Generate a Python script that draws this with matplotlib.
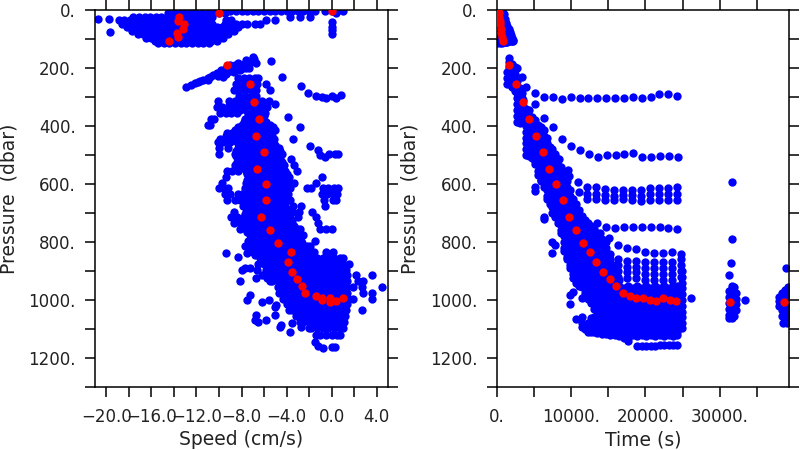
import matplotlib
matplotlib.use('Agg')
import matplotlib.pyplot as plt

# --- left panel: blue points, one list of speeds per pressure level ---
surface_levels = [5, 12, 24, 36, 48, 60, 72, 84, 96, 108, 113]
surface_speeds = [
    [-10, -9.5, -9, -8.5, -8, -7.5, -7, -6.5, -6, -5.5, -5, -4.5, -4, -3.5, -3, -2.5, -2, -1.5, -0.6, 0, 0.5, 1],
    [-14.5, -14, -13.5, -13, -12.5, -12, -11.5, -11, -10.5, -10, -9.5, 0.4],
    [-17.6, -17.1, -16.6, -16.1, -15.6, -15.1, -14.6, -14.1, -13.6, -13.1, -12.6, -12.1, -11.6, -11.1, -10.6, -3.7, -2.8, -1.9],
    [-18.9, -18.4, -17.9, -17.4, -16.9, -16.4, -15.9, -15.4, -14.9, -14.4, -13.9, -13.4, -12.9, -12.4, -11.9, -11.4, -10.8, -9.4, -8.9, -5.8, -5.0],
    [-18.6, -18.1, -17.6, -17.1, -16.6, -16.1, -15.6, -15.1, -14.6, -14.1, -13.6, -13.1, -12.6, -12.1, -11.6, -11.1, -10.6, -9.5, -9, -8.5, -8, -7.55, -6.8, -6.4],
    [-18.2, -17.7, -17.2, -16.7, -16.2, -15.7, -15.2, -14.7, -14.2, -13.7, -13.2, -12.7, -12.2, -11.7, -11.2, -10.7, -10.2, -9.7, -9.2, -8.6, -8.3],
    [-17.7, -17.2, -16.7, -16.2, -15.7, -15.2, -14.7, -14.2, -13.7, -13.2, -12.7, -12.2, -11.7, -11.2, -10.7, -10.2, -9.7, -9.2, -8.7],
    [-17.2, -16.7, -16.2, -15.7, -15.2, -14.7, -14.2, -13.7, -13.2, -12.7, -12.2, -11.7, -11.2, -10.7, -10.2, -9.7, -9.2],
    [-16.5, -16, -15.5, -15, -14.5, -14, -13.5, -13, -12.5, -12, -11.5, -11, -10.5, -10, -9.6],
    [-15.7, -15.2, -14.7, -14.2, -13.7, -13.2, -12.7, -12.2, -11.7, -11.2, -10.7, -10.2],
    [-15.4, -14.9, -14.4, -13.9, -13.4, -12.9, -12.4, -11.9, -11.4, -10.9],
]
surface_extra_speed = [-20.7, -19.76, -19.7, 0, 0, 0, 0]
surface_extra_press = [32, 32, 75, 40, 57, 69, 84]

branch_speed = [-12.9, -12.1, -11.4, -11.9, -10.5, -10.8, -9.8, -9.6, -9, -8.7, -8.3, -8.15, -7.6, -7.3, -7, -6.7, -8.5, -7.8, -7.2, -9.2, -5.4, -4.45, -2.7, -2.1, -1.4, -0.9, -0.5, 0, 0.4, 0.8, -5.0, -3.9, -2.8, -3.4, -1.9, -1.2, -1, -0.6, -0.2, 0.3, 0.6]
branch_press = [267, 253, 241, 248, 224, 232, 207, 230, 190, 213, 182, 207, 172, 201, 163, 184, 195, 186, 180, 200, 175, 230, 262, 287, 297, 299, 302, 295, 302, 293, 325, 370, 404, 445, 468, 483, 500, 506, 497, 497, 498]
# the thick part of the streak near 200 dbar
streak_speed = [-12.5, -11.7, -11.0, -11.0, -10.2, -10.1, -9.4, -9.3, -8.9, -8.6, -8.1, -7.9, -7.5, -7.4, -7.1, -6.9, -7.6, -8.2, -8.9, -9.4]
streak_press = [258, 246, 233, 240, 217, 226, 200, 215, 205, 190, 190, 200, 180, 190, 175, 170, 200, 205, 210, 220]

mid_levels = [235, 255, 275, 295, 315, 335, 355, 375, 395, 415, 435, 455, 475, 495, 515, 535, 555, 575, 595, 615, 635, 655, 675, 695, 715, 735]
mid_speeds = [
    [-8.3, -7.8, -7.3, -6.8, -6.5],
    [-8.5, -8, -7.5, -7, -6.6, -5.8],
    [-8.7, -8.2, -7.7, -7.2, -6.7, -5.5],
    [-8.2, -7.7, -7.2, -6.7],
    [-10.1, -9.1, -8.6, -8.1, -7.6, -7.1, -6.6, -6.2, -5.6],
    [-10.2, -9.7, -9.2, -8.7, -8.2, -7.7, -7.2, -6.7, -6.2, -5.7],
    [-9.9, -9.4, -8.9, -8.4, -7.4, -6.9, -6.4, -5.9],
    [-10.7, -10.4, -7.7, -7.2, -6.7, -6.2],
    [-11, -10.8, -8, -7.5, -7, -6.5, -6, -5.5],
    [-8.6, -8, -7.5, -7, -6.5, -6, -5.4, -5],
    [-9.4, -8.9, -8.3, -7.8, -7.3, -6.8, -6.3, -5.8, -5.3],
    [-10.1, -9.6, -9, -8.4, -7.9, -7.4, -6.9, -6.4, -5.9],
    [-10, -9.2, -8.3, -7.8, -7.3, -6.8, -6.3, -5.8, -5.2, -4.7],
    [-10, -8.6, -8.1, -7.6, -7.1, -6.6, -6.1, -5.6, -4.9, -4.4],
    [-8.3, -7.8, -7.3, -6.8, -6.3, -5.8, -5.3, -4.6, -3.6],
    [-8.6, -8, -7.5, -7, -6.5, -6, -5.5, -5, -4.2, -3.3],
    [-9.3, -8.8, -8.3, -7.6, -7.1, -6.6, -6.1, -5.6, -5.1, -4.6, -4.1, -3.1],
    [-9.4, -7.3, -6.8, -6.3, -5.8, -5.3, -4.8, -4.3, -3.8, -0.85],
    [-9.7, -7.6, -7.1, -6.6, -6.1, -5.6, -5.1, -4.6, -4.1, -3.85, -3.3, -1.4],
    [-10, -9.6, -9.2, -7.7, -7.2, -6.7, -6.2, -5.7, -5.2, -4.7, -4.2, -3.7, -2.2, -1.8, -0.8, -0.3, 0.2, 0.6],
    [-9.5, -9, -8.3, -7.9, -7.4, -6.9, -6.4, -5.9, -5.4, -4.9, -4.4, -3.9, -0.9, -0.4, 0.1, 0.5],
    [-9.3, -8.6, -8.1, -7.6, -7.1, -6.6, -6.1, -5.6, -5.1, -4.6, -4.1, -3.7, -0.7, 0.1, 0.4],
    [-7.9, -7.4, -6.9, -6.4, -5.9, -5.4, -4.9, -4.4, -3.4, -2.7, -0.6],
    [-8.7, -7.6, -7.1, -6.6, -6.1, -5.6, -5.1, -4.6, -4.1, -3.5, -2.9, -1.7],
    [-8.9, -8.4, -7.8, -7.3, -6.8, -6.3, -5.8, -5.3, -4.8, -4.3, -3.8, -3.0, -1.4],
    [-8.7, -8.1, -7.5, -7, -6.5, -6, -5.5, -5, -4.5, -4, -3.5, -1.2],
]

# filling the solid middle of the column between the rows above
core_levels = [345, 365, 385, 405, 425, 445, 465, 485, 505, 525, 545, 565, 585, 605, 625, 645, 665, 685, 705, 725, 745, 765, 785, 805, 825, 845]
core_speeds = [
    [-9.6, -9.1, -8.6, -8.1, -7.6, -7.1, -6.6, -6.1],
    [-7.4, -6.9, -6.4, -6.0],
    [-7.8, -7.3, -6.8, -6.3, -5.8],
    [-8.3, -7.8, -7.3, -6.8, -6.3, -5.8, -5.2],
    [-9.3, -8.8, -8.1, -7.6, -7.1, -6.6, -6.1, -5.6],
    [-9.9, -9.1, -8.6, -8.1, -7.6, -7.1, -6.6, -6.1, -5.6, -5.1],
    [-8.2, -7.6, -7.1, -6.6, -6.1, -5.6, -5.0],
    [-8.5, -7.9, -7.4, -6.9, -6.4, -5.9, -5.4, -4.6],
    [-8.5, -8, -7.5, -7, -6.5, -6, -5.5, -5],
    [-8.4, -7.9, -7.4, -6.9, -6.4, -5.9, -5.4, -4.9, -4.4],
    [-8.1, -7.6, -7.1, -6.6, -6.1, -5.6, -5.1, -4.6],
    [-7.5, -7, -6.5, -6, -5.5, -5, -4.5, -4],
    [-7.5, -7, -6.5, -6, -5.5, -5, -4.5, -4],
    [-7.4, -6.9, -6.4, -5.9, -5.4, -4.9, -4.4, -3.9],
    [-7.7, -7.2, -6.7, -6.2, -5.7, -5.2, -4.7, -4.2],
    [-8, -7.5, -7, -6.5, -6, -5.5, -5, -4.5, -4],
    [-7.6, -7.1, -6.6, -6.1, -5.6, -5.1, -4.6, -4.1],
    [-7.5, -7, -6.5, -6, -5.5, -5, -4.5, -4],
    [-7.7, -7.2, -6.7, -6.2, -5.7, -5.2, -4.7, -4.2, -3.7],
    [-8, -7.5, -7, -6.5, -6, -5.5, -5, -4.5, -4, -3.5],
    [-7.8, -7.3, -6.8, -6.3, -5.8, -5.3, -4.8, -4.3, -3.8, -3.3],
    [-7.5, -7, -6.5, -6, -5.5, -5, -4.5, -4, -3.5, -3],
    [-7.2, -6.7, -6.2, -5.7, -5.2, -4.7, -4.2, -3.7, -3.2],
    [-7.1, -6.6, -6.1, -5.6, -5.1, -4.6, -4.1, -3.6, -3.1, -2.6],
    [-7, -6.5, -6, -5.5, -5, -4.5, -4, -3.5, -3, -2.5],
    [-6.8, -6.3, -5.8, -5.3, -4.8, -4.3, -3.8, -3.3, -2.8, -2.3],
]

deep_levels = [755, 775, 795, 815, 835, 855, 875, 895, 915, 935, 955, 975, 995, 1015, 1035, 1055, 1075, 1095, 1119]
deep_speeds = [
    [-8.15, -7.6, -7.1, -6.6, -6.1, -5.6, -5.1, -4.6, -4.1, -3.6, -3.1, -2.8, -1, -0.5, 0],
    [-7.25, -6.8, -6.3, -5.8, -5.3, -4.8, -4.3, -3.8, -3.3, -2.8, -2.5],
    [-7.4, -7, -6.5, -6, -5.5, -5, -4.5, -4, -3.5, -3, -2.7, -1.5],
    [-7.7, -7.25, -6.8, -6.3, -5.8, -5.3, -4.8, -4.3, -3.8, -3.3, -2.8, -2.2, -1.9],
    [-6.95, -6.5, -6, -5.5, -5, -4.5, -4, -3.5, -3, -2.5, -2, -1.6, -0.5, 0.1],
    [-6.4, -5.8, -5.3, -4.8, -4.3, -3.8, -3.3, -2.8, -2.3, -1.8, -1.3, -0.8, -0.3, 0.2, 0.7, 1.0],
    [-6.5, -6, -5.5, -5, -4.5, -4, -3.5, -3, -2.5, -2, -1.5, -1, -0.5, 0, 0.5, 1, 1.55],
    [-6.6, -5.8, -5.3, -4.8, -4.3, -3.8, -3.3, -2.8, -2.3, -1.8, -1.3, -0.8, -0.3, 0.2, 0.7, 1.3],
    [-6.2, -5.5, -5, -4.5, -4, -3.5, -3, -2.5, -2, -1.5, -1, -0.5, 0, 0.5, 1, 1.4, 2.2, 3.6],
    [-5.5, -5.3, -4.8, -4.3, -3.8, -3.3, -2.8, -2.3, -1.8, -1.3, -0.8, -0.3, 0.2, 0.7, 1.2, 1.4, 2.35, 2.8],
    [-4.8, -4.5, -4, -3.5, -3, -2.5, -2, -1.5, -1, -0.5, 0, 0.5, 1, 1.4, 1.9, 2.65, 4.5],
    [-4.7, -4.3, -3.8, -3.3, -2.8, -2.3, -1.8, -1.3, -0.8, -0.3, 0.2, 0.7, 1.2, 1.4, 2.8, 3.55],
    [-4.3, -4, -3.5, -3, -2.5, -2, -1.5, -1, -0.5, 0, 0.5, 1, 1.5, 1.9, 3.55],
    [-4, -3.8, -3.3, -2.8, -2.3, -1.8, -1.3, -0.8, -0.3, 0.2, 0.7, 1.2, 1.4],
    [-3.8, -3.5, -3, -2.5, -2, -1.5, -1, -0.5, 0, 0.5, 1, 1.3, 2.65],
    [-3.2, -2.8, -2.3, -1.8, -1.3, -0.8, -0.3, 0.2, 0.7, 1.2],
    [-2.8, -2.5, -2, -1.5, -1, -0.5, 0, 0.5, 1, 1.1],
    [-2, -1.8, -1.3, -0.8, -0.3, 0.2, 0.7, 1.0],
    [-1.4, -1, -0.5, 0, 0.5, 0.7],
]
deep_extra_speed = [-9.4, -8.3, -7.55, -8, -7.7, -7.25, -8.15, -6.67, -5.78, -7.55, -7.25, -6.2, -5.6, -5, -4.9, -6.7, -6.5, -6.8, -5.8, -5, -4.6, -3.7, -3.55, -2.7, -4.5, -1.5, -1.2, -0.75, 0, 0.3]
deep_extra_press = [837, 853, 839, 897, 891, 888, 934, 925, 925, 1000, 983, 1006, 1000, 1023, 1017, 1052, 1075, 1069, 1069, 1052, 1092, 1109, 1080, 1092, 1086, 1144, 1157, 1164, 1161, 1161]

# --- left panel: red points ---
red_speed = [-13.53, -13.64, -13.08, -13.23, -13.76, -13.67, -14.41, -10.0, 0.0, -9.3, -7.23, -6.93, -6.43, -6.73, -5.99, -6.64, -5.84, -5.87, -6.31, -5.43, -4.72, -3.57, -3.83, -3.51, -3.06, -2.62, -2.38, -1.41, -0.82, -0.9, -0.17, -0.11, 0.43, 1.05]
red_speed_press = [23, 37, 49, 66, 78, 92, 106, 11, 3, 190, 255, 317, 376, 436, 490, 549, 601, 655, 713, 760, 803, 836, 870, 902, 929, 952, 975, 985, 992, 1001, 992, 1008, 1003, 992]

# --- right panel: blue points, one list of pressures per time column ---
fan_times = [100, 400, 700, 1000, 1150, 1300, 1450, 1600, 1750, 1900, 2000, 2150]
fan_press = [
    [5, 20, 35, 50, 65, 80, 95, 110, 114],
    [5, 20, 35, 50, 65, 80, 95, 110, 114],
    [5, 20, 35, 50, 65, 80, 95, 110, 114],
    [15, 30, 45, 60, 75, 90, 105, 112],
    [30, 45, 60, 75, 90, 105, 112],
    [45, 60, 75, 90, 105, 110],
    [55, 70, 85, 100, 110],
    [65, 80, 95, 108],
    [75, 90, 105],
    [85, 100, 108],
    [95, 108],
    [105, 108],
]

band_times = [1450, 1700, 2000, 2400, 2780, 3100, 3363, 3600, 3901, 4300, 4700, 5100, 5500, 5900, 6300, 6700, 7100, 7500, 7900, 8300, 8700, 9100, 9500, 9900, 10300, 10700, 11100, 11500, 11900, 12300, 12700, 13100]
band_press = [
    [215, 235, 255],
    [165, 180, 195, 215, 235, 255],
    [185, 205, 225, 245, 265],
    [195, 220, 240, 260, 280],
    [199, 245, 265, 285, 305, 325, 345, 365, 385],
    [270, 290, 310, 330, 350, 370, 390],
    [232, 285, 305, 325, 345, 365, 385],
    [310, 330, 350, 370],
    [264, 340, 360, 380, 400, 420, 440, 460, 480, 500],
    [345, 365, 385, 405, 425, 445, 465, 485, 505],
    [370, 390, 410, 430, 450, 470, 490, 510],
    [380, 400, 420, 440, 460, 480, 500, 520, 530, 610, 625],
    [395, 415, 435, 455, 475, 495, 515, 535, 555, 570],
    [405, 425, 445, 465, 485, 505, 525, 545, 565, 585, 590],
    [414, 435, 455, 475, 495, 515, 535, 555, 575, 595, 610, 715, 720],
    [440, 460, 480, 500, 520, 540, 560, 580, 600, 620, 640, 650],
    [471, 490, 510, 530, 550, 570, 590, 610, 630, 650, 670],
    [480, 500, 520, 540, 560, 580, 600, 620, 640, 660, 680, 700, 801, 838],
    [495, 515, 535, 555, 575, 595, 615, 635, 655, 675, 695, 715, 810],
    [515, 535, 555, 575, 595, 615, 635, 655, 675, 695, 715, 735],
    [540, 560, 580, 600, 620, 640, 660, 680, 700, 720, 740, 760, 770],
    [560, 580, 600, 620, 640, 660, 680, 700, 720, 740, 760, 780, 800, 820, 830],
    [590, 610, 630, 650, 670, 690, 710, 730, 750, 770, 790, 810, 830, 850, 860],
    [620, 640, 660, 680, 700, 720, 740, 760, 780, 800, 820, 840, 860, 880, 890, 984, 1013],
    [650, 670, 690, 710, 730, 750, 770, 790, 810, 830, 850, 870, 890, 910, 925, 972],
    [670, 690, 710, 730, 750, 770, 790, 810, 830, 850, 870, 890, 910, 930, 940, 1067],
    [690, 710, 730, 750, 770, 790, 810, 830, 850, 870, 890, 910, 930, 950],
    [710, 730, 750, 770, 790, 810, 830, 850, 870, 890, 910, 930, 955, 992, 1059, 1080, 1092],
    [725, 745, 765, 785, 805, 825, 845, 865, 885, 905, 925, 945, 975, 1100],
    [735, 755, 775, 795, 815, 835, 855, 875, 895, 915, 935, 955, 975, 995, 1080, 1111],
    [745, 765, 785, 805, 825, 845, 865, 885, 905, 925, 945, 965, 985, 1010, 1062, 1085, 1110],
    [755, 775, 795, 815, 835, 855, 875, 895, 915, 935, 955, 975, 995, 1030, 1060, 1090, 1112],
]

deep_times = [13500, 14100, 14700, 15300, 15900, 16500, 17100, 17700, 18300, 18900, 19500, 20100, 20700, 21300, 21900, 22500, 23100, 23700, 24300, 24900]
deep_press = [
    [770, 790, 810, 830, 850, 870, 890, 910, 930, 950, 970, 990, 1010, 1030, 1050, 1070, 1090, 1114],
    [790, 810, 830, 850, 870, 890, 910, 930, 950, 970, 990, 1010, 1030, 1050, 1070, 1090, 1110, 1117],
    [800, 820, 840, 860, 880, 900, 920, 940, 960, 980, 1000, 1020, 1040, 1060, 1080, 1100, 1118],
    [840, 860, 880, 900, 920, 940, 960, 980, 1000, 1020, 1040, 1060, 1080, 1100, 1120],
    [880, 900, 920, 940, 960, 980, 1000, 1020, 1040, 1060, 1080, 1100, 1120],
    [930, 950, 970, 990, 1010, 1030, 1050, 1070, 1090, 1110, 1125],
    [960, 980, 1000, 1020, 1040, 1060, 1080, 1100, 1120, 1132],
    [950, 970, 990, 1010, 1030, 1050, 1070, 1090, 1110, 1130, 1143],
    [960, 980, 1000, 1020, 1040, 1060, 1080, 1100, 1120],
    [950, 970, 990, 1010, 1030, 1050, 1070, 1090, 1110, 1125, 1157],
    [960, 980, 1000, 1020, 1040, 1060, 1080, 1100, 1120, 1160],
    [950, 970, 990, 1010, 1030, 1050, 1070, 1090, 1110, 1125, 1160],
    [960, 980, 1000, 1020, 1040, 1060, 1080, 1100, 1120, 1158],
    [950, 970, 990, 1010, 1030, 1050, 1070, 1090, 1110, 1125, 1157],
    [960, 980, 1000, 1020, 1040, 1060, 1080, 1100, 1120, 1156],
    [950, 970, 990, 1010, 1030, 1050, 1070, 1090, 1110, 1125, 1156],
    [960, 980, 1000, 1020, 1040, 1060, 1080, 1100, 1120, 1155],
    [950, 970, 990, 1010, 1030, 1050, 1070, 1090, 1110, 1125, 1155],
    [950, 970, 990, 1010, 1030, 1050, 1070, 1090, 1110, 1122, 1155],
    [900, 920, 940, 960, 980, 1000, 1020, 1040, 1060, 1080, 1095],
]

# real profile columns, visible above the solid block
upper_times = [15156, 16367, 17578, 18788, 20000, 21210, 22420, 23631, 24797]
upper_press = [
    [787, 860, 880, 900],
    [810, 860, 880, 900, 920],
    [820, 865, 885, 905, 925],
    [825, 865, 885, 905, 925],
    [833, 870, 890, 910, 930],
    [839, 870, 890, 910, 930],
    [839, 870, 890, 910, 930],
    [835, 870, 890, 910, 930],
    [841, 860, 880, 900, 920],
]

row300_time = [5112, 6322, 7533, 8744, 9954, 11165, 12331, 13497, 14708, 15918, 17129, 18340, 19550, 20761, 21882, 23093, 24303]
row300_press = [287, 299, 300, 306, 299, 302, 303, 302, 303, 303, 305, 301, 302, 300, 290, 290, 298]
row500_time = [5200, 6412, 7578, 8833, 10044, 11255, 12420, 13632, 14797, 16008, 17174, 18385, 19595, 20806, 22017, 23182, 24393]
row500_press = [325, 371, 403, 445, 468, 482, 495, 506, 500, 499, 495, 494, 506, 506, 505, 502, 506]

row630_time = [12197, 13407, 14618, 15829, 17039, 18250, 19461, 20672, 21882, 23048, 24214]
row630_upper = [612, 610, 618, 622, 620, 620, 622, 615, 615, 614, 612]
row630_mid = [635, 634, 638, 640, 638, 638, 640, 636, 636, 636, 635]
row630_lower = [650, 652, 656, 654, 652, 655, 658, 656, 656, 655, 656]

right_extra_time = [8430, 9640, 9775, 10900, 11075, 13450, 13900, 14708, 15918, 17129, 18340, 19550, 20761, 21972, 23093, 24303, 26100, 31660, 31480, 31300, 31610, 33320, 38920, 38430, 39000]
right_extra_press = [515, 552, 571, 592, 627, 736, 770, 750, 752, 750, 750, 750, 750, 750, 752, 755, 992, 790, 871, 914, 593, 1000, 889, 1078, 1078]

# the two late profiles near 31500 s and 38600 s
late1_times = [31300, 31450, 31600, 31750, 31900, 32150]
late1_press = [
    [970, 990, 1010, 1030, 1050, 1061],
    [965, 985, 1005, 1025, 1045],
    [952, 972, 992, 1012, 1032, 1052, 1061],
    [960, 980, 1000, 1020, 1040],
    [955, 975, 995, 1015, 1035, 1055],
    [975, 995, 1015, 1035],
]
late2_times = [37900, 38300, 38700, 39100]
late2_press = [
    [990, 1005, 1020],
    [975, 995, 1015, 1035, 1055],
    [965, 985, 1005, 1025, 1045, 1065],
    [955, 975, 995, 1015, 1035, 1055, 1075],
]

# --- right panel: red points ---
red_time = [220, 300, 350, 400, 450, 520, 590, 680, 800, 1704, 2600, 3498, 4394, 5291, 6188, 7085, 7982, 8878, 9775, 10672, 11569, 12510, 13407, 14304, 15201, 16098, 16994, 17891, 18788, 19685, 20582, 21479, 22376, 23273, 24170, 31388, 38607]
red_time_press = [3, 11, 23, 37, 49, 66, 78, 92, 106, 190, 255, 317, 376, 436, 490, 549, 601, 655, 713, 760, 803, 836, 870, 902, 929, 952, 975, 985, 992, 992, 1001, 1003, 992, 1001, 1003, 1008, 1008]

# --- axis ticks ---
press_ticks = [0, 100, 200, 300, 400, 500, 600, 700, 800, 900, 1000, 1100, 1200, 1300]
press_labels = ['0.', '', '200.', '', '400.', '', '600.', '', '800.', '', '1000.', '', '1200.', '']
speed_ticks = [-20, -18, -16, -14, -12, -10, -8, -6, -4, -2, 0, 2, 4]
speed_labels = ['\u221220.0', '', '\u221216.0', '', '\u221212.0', '', '\u22128.0', '', '\u22124.0', '', '0.0', '', '4.0']
time_ticks = [0, 5000, 10000, 15000, 20000, 25000, 30000, 35000]
time_labels = ['0.', '', '10000.', '', '20000.', '', '30000.', '']

BLUE = '#0000ff'
RED = '#ff0000'
TEXT = '#222222'
SIZE = 36


def flatten_rows(levels, values):
    # levels[i] goes with every value in values[i], returns values then levels
    xs, ys = [], []
    for level, row in zip(levels, values):
        for v in row:
            xs.append(v)
            ys.append(level)
    return xs, ys


def style_axis(ax, xticks, xlabels, xlim, xname, ylabel_x):
    ax.set_xlim(*xlim)
    ax.set_ylim(1300, 0)
    ax.set_xticks(xticks)
    ax.set_xticklabels(xlabels)
    ax.set_yticks(press_ticks)
    ax.set_yticklabels(press_labels)
    ax.tick_params(axis='both', direction='out', length=6.9, width=1.1, labelsize=12,
                   labelcolor=TEXT, top=True, right=True)
    ax.tick_params(axis='x', pad=8)
    ax.tick_params(axis='y', pad=7)
    for s in ax.spines.values():
        s.set_linewidth(1.1)
    ax.set_xlabel(xname, fontsize=13.5, color=TEXT, va='center')
    ax.set_ylabel('Pressure  (dbar)', fontsize=13.5, color=TEXT, va='center')
    ax.xaxis.set_label_coords(0.5, -0.14)
    ax.yaxis.set_label_coords(ylabel_x, 0.5)


fig = plt.figure(figsize=(8, 4.5), dpi=100)
ax1 = fig.add_axes([95 / 800, 1 - 387 / 450, 293 / 800, 377 / 450])
ax2 = fig.add_axes([496.7 / 800, 1 - 387 / 450, 292.3 / 800, 377 / 450])

# left panel
for levels, speeds in [(surface_levels, surface_speeds), (mid_levels, mid_speeds),
                       (core_levels, core_speeds), (deep_levels, deep_speeds)]:
    s, p = flatten_rows(levels, speeds)
    ax1.scatter(s, p, s=SIZE, c=BLUE, linewidths=0)
ax1.scatter(surface_extra_speed, surface_extra_press, s=SIZE, c=BLUE, linewidths=0)
ax1.scatter(branch_speed, branch_press, s=SIZE, c=BLUE, linewidths=0)
ax1.scatter(streak_speed, streak_press, s=SIZE, c=BLUE, linewidths=0)
ax1.scatter(deep_extra_speed, deep_extra_press, s=SIZE, c=BLUE, linewidths=0)
ax1.scatter(red_speed, red_speed_press, s=SIZE, c=RED, linewidths=0, zorder=3)
style_axis(ax1, speed_ticks, speed_labels, (-21, 5), 'Speed (cm/s)', -0.2935)

# right panel
for times, press in [(fan_times, fan_press), (band_times, band_press), (deep_times, deep_press),
                     (upper_times, upper_press), (late1_times, late1_press), (late2_times, late2_press)]:
    p, t = flatten_rows(times, press)
    ax2.scatter(t, p, s=SIZE, c=BLUE, linewidths=0)
ax2.scatter(row300_time, row300_press, s=SIZE, c=BLUE, linewidths=0)
ax2.scatter(row500_time, row500_press, s=SIZE, c=BLUE, linewidths=0)
for row in [row630_upper, row630_mid, row630_lower]:
    ax2.scatter(row630_time, row, s=SIZE, c=BLUE, linewidths=0)
ax2.scatter(right_extra_time, right_extra_press, s=SIZE, c=BLUE, linewidths=0)
ax2.scatter(red_time, red_time_press, s=SIZE, c=RED, linewidths=0, zorder=3)
style_axis(ax2, time_ticks, time_labels, (0, 39300), 'Time (s)', -0.2966)

fig.savefig('out.png', dpi=100)
